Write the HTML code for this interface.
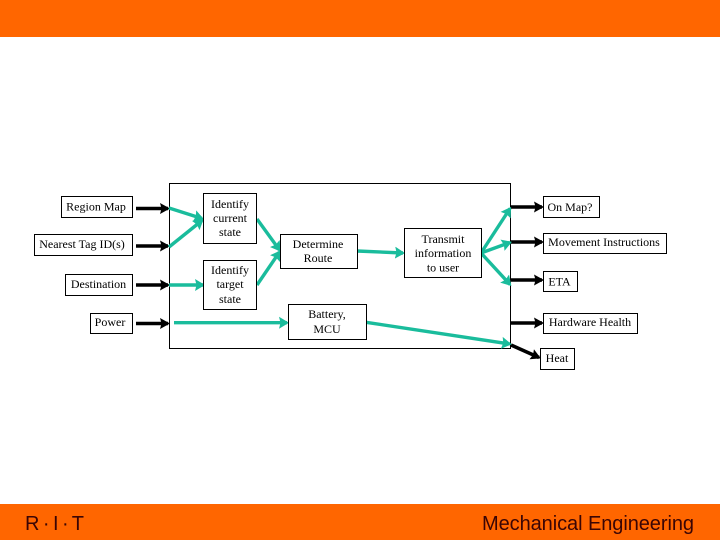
<!DOCTYPE html>
<html>
<head>
<meta charset="utf-8">
<style>
html,body{margin:0;padding:0;background:#fff}
svg{display:block}
.t{font-family:"Liberation Serif",serif;font-size:12px;fill:#000;text-anchor:middle}
.s{font-family:"Liberation Sans",sans-serif;font-size:20px;fill:#3a0505}
rect.b{fill:#fff;stroke:#000;stroke-width:1}
.k{stroke:#000;stroke-width:3.6;fill:none}
.g{stroke:#1abc9c;stroke-width:3.4;fill:none}
</style>
</head>
<body>
<svg width="720" height="540" viewBox="0 0 720 540" xmlns="http://www.w3.org/2000/svg">
<defs>
<marker id="ak" markerUnits="userSpaceOnUse" markerWidth="11" markerHeight="12" refX="8" refY="6" orient="auto"><path d="M0 0.500L10 6L0 11.500L1.500 6Z" fill="#000"/></marker>
<marker id="ag" markerUnits="userSpaceOnUse" markerWidth="11" markerHeight="13" refX="8" refY="6.500" orient="auto"><path d="M0 0.500L10 6.500L0 12.500L1.500 6.500Z" fill="#1abc9c"/></marker>
</defs>
<rect x="0" y="0" width="720" height="37" fill="#ff6600"/>
<rect x="0" y="504" width="720" height="36" fill="#ff6600"/>
<text class="s" x="25" y="530" textLength="59">R · I · T</text>
<text class="s" x="482" y="530" textLength="212">Mechanical Engineering</text>

<rect class="b" x="169.500" y="183.500" width="341" height="165"/>

<g class="k">
<line x1="136" y1="208.500" x2="168" y2="208.500" marker-end="url(#ak)"/>
<line x1="136" y1="246" x2="168" y2="246" marker-end="url(#ak)"/>
<line x1="136" y1="285" x2="168" y2="285" marker-end="url(#ak)"/>
<line x1="136" y1="323.500" x2="168" y2="323.500" marker-end="url(#ak)"/>
<line x1="511" y1="207" x2="542" y2="207" marker-end="url(#ak)"/>
<line x1="511" y1="242" x2="542" y2="242" marker-end="url(#ak)"/>
<line x1="511" y1="280" x2="542" y2="280" marker-end="url(#ak)"/>
<line x1="511" y1="323" x2="542" y2="323" marker-end="url(#ak)"/>
<line x1="511" y1="345" x2="539" y2="357.500" marker-end="url(#ak)"/>
</g>
<g class="g">
<line x1="169" y1="208" x2="202" y2="218.500" marker-end="url(#ag)"/>
<line x1="169" y1="247" x2="202" y2="220.500" marker-end="url(#ag)"/>
<line x1="169" y1="285" x2="203" y2="285" marker-end="url(#ag)"/>
<line x1="174" y1="322.700" x2="287" y2="322.700" marker-end="url(#ag)"/>
<line x1="257" y1="219" x2="279.500" y2="250" marker-end="url(#ag)"/>
<line x1="257" y1="285" x2="279.500" y2="252" marker-end="url(#ag)"/>
<line x1="357" y1="251" x2="403" y2="253" marker-end="url(#ag)"/>
<line x1="481" y1="253" x2="510" y2="208.500" marker-end="url(#ag)"/>
<line x1="481" y1="253" x2="510" y2="242.500" marker-end="url(#ag)"/>
<line x1="481" y1="253" x2="510" y2="284.500" marker-end="url(#ag)"/>
<line x1="366" y1="322.300" x2="509.700" y2="344" marker-end="url(#ag)"/>
</g>

<rect class="b" x="61.500" y="196.500" width="71" height="21"/>
<rect class="b" x="34.500" y="234.500" width="98" height="21"/>
<rect class="b" x="65.500" y="274.500" width="67" height="21"/>
<rect class="b" x="90.500" y="313.500" width="42" height="20"/>
<rect class="b" x="203.500" y="193.500" width="53" height="50"/>
<rect class="b" x="203.500" y="260.500" width="53" height="49"/>
<rect class="b" x="280.500" y="234.500" width="77" height="34"/>
<rect class="b" x="404.500" y="228.500" width="77" height="49"/>
<rect class="b" x="288.500" y="304.500" width="78" height="35"/>
<rect class="b" x="543.500" y="196.500" width="56" height="21"/>
<rect class="b" x="543.500" y="233.500" width="123" height="20"/>
<rect class="b" x="543.500" y="271.500" width="34" height="20"/>
<rect class="b" x="543.500" y="313.500" width="94" height="20"/>
<rect class="b" x="540.500" y="348.500" width="34" height="21"/>

<text class="t" x="96" y="210.500">Region Map</text>
<text class="t" x="82" y="248">Nearest Tag ID(s)</text>
<text class="t" x="98.500" y="288">Destination</text>
<text class="t" x="110" y="326">Power</text>
<text class="t" x="230" y="208">Identify</text>
<text class="t" x="230" y="222">current</text>
<text class="t" x="230" y="236">state</text>
<text class="t" x="230" y="274">Identify</text>
<text class="t" x="230" y="288">target</text>
<text class="t" x="230" y="303">state</text>
<text class="t" x="318" y="248">Determine</text>
<text class="t" x="318" y="262">Route</text>
<text class="t" x="443" y="243">Transmit</text>
<text class="t" x="443" y="257">information</text>
<text class="t" x="443" y="271.500">to user</text>
<text class="t" x="327" y="318">Battery,</text>
<text class="t" x="327" y="333">MCU</text>
<text class="t" x="570" y="211">On Map?</text>
<text class="t" x="604" y="246">Movement Instructions</text>
<text class="t" x="559.500" y="285.500">ETA</text>
<text class="t" x="590" y="326">Hardware Health</text>
<text class="t" x="557" y="362">Heat</text>
</svg>
</body>
</html>
